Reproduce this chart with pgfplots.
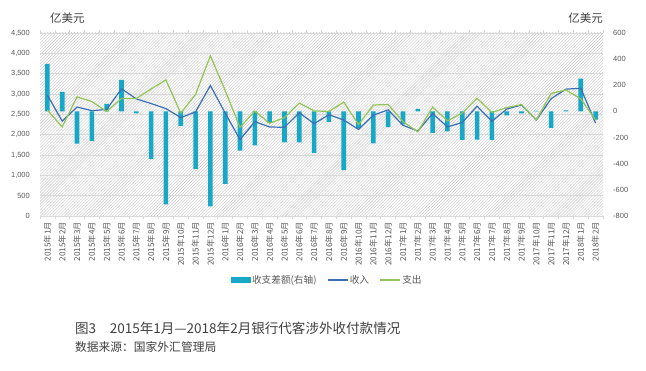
\documentclass[border=0pt]{standalone}
\usepackage{fontspec}
\setmainfont{Liberation Sans}
\newfontfamily\cjk{Noto Sans CJK SC}
\usepackage{pgfplots}
\pgfplotsset{compat=1.18}
\usepackage{pgfplotstable}
\usetikzlibrary{patterns}

\definecolor{barc}{HTML}{16A8C6}
\definecolor{incc}{HTML}{3A6FB6}
\definecolor{expc}{HTML}{92C456}
\definecolor{txt}{HTML}{595959}
\definecolor{capc}{HTML}{404040}
\definecolor{gridc}{HTML}{D9D9D9}

\pgfplotstableread{
x inc exp bal
0 2970 2605 363
1 2333 2190 149
2 2680 2930 -247
3 2590 2815 -226
4 2620 2570 57
5 3130 2890 241
6 2880 2890 -15
7 2766 3125 -364
8 2640 3345 -711
9 2420 2530 -110
10 2560 2990 -440
11 3210 3940 -726
12 2530 3085 -555
13 1880 2180 -300
14 2320 2580 -260
15 2190 2280 -88
16 2180 2420 -237
17 2540 2775 -236
18 2270 2585 -317
19 2490 2570 -80
20 2360 2800 -450
21 2130 2250 -125
22 2480 2730 -245
23 2610 2740 -120
24 2230 2320 -100
25 2090 2070 20
26 2520 2680 -165
27 2190 2340 -152
28 2300 2530 -217
29 2700 2895 -215
30 2330 2545 -217
31 2630 2665 -31
32 2730 2740 -15
33 2360 2365 5
34 2885 3013 -125
35 3120 3100 8
36 3140 2880 250
37 2285 2360 -63
}\data

\pgfplotsset{base/.style={width=563bp,height=183bp,scale only axis,
  at={(40bp,154bp)},anchor=south west,xmin=-0.5,xmax=37.5,enlargelimits=false,
  axis line style={draw=none},major tick length=0pt,
  /pgf/number format/assume math mode=true,/pgf/number format/1000 sep={,}}}

\begin{document}
\begin{tikzpicture}[x=1bp,y=1bp]
\fill[white] (0,0) rectangle (646,370);
\useasboundingbox (0,0) rectangle (646,370);

\begin{axis}[base,ymin=0,ymax=4500,ytick={0,500,...,4500},
  ymajorgrids,grid style={gridc,line width=0.7bp},
  axis background/.style={pattern=north east lines,pattern color=black!21},
  yticklabel style={font=\fontsize{7.5}{8}\selectfont,text=txt,anchor=east,inner sep=0pt,xshift=-10bp},
  xtick={0,...,37},
  xticklabels={2015年1月,2015年2月,2015年3月,2015年4月,2015年5月,2015年6月,2015年7月,2015年8月,2015年9月,2015年10月,2015年11月,2015年12月,2016年1月,2016年2月,2016年3月,2016年4月,2016年5月,2016年6月,2016年7月,2016年8月,2016年9月,2016年10月,2016年11月,2016年12月,2017年1月,2017年2月,2017年3月,2017年4月,2017年5月,2017年6月,2017年7月,2017年8月,2017年9月,2017年10月,2017年11月,2017年12月,2018年1月,2018年2月},
  xticklabel style={font=\cjk\fontsize{8.2}{9}\selectfont,text=txt,yshift=-6bp,rotate=90,anchor=east,inner sep=0pt},
  minor xtick={-0.5,0.5,...,37.5},minor tick length=3bp,tick align=outside,
  minor x tick style={gridc,line width=0.6bp}]
\addplot[draw=none] coordinates {(0,0)};
\end{axis}

\begin{axis}[base,ymin=-800,ymax=600,ytick={-800,-600,...,600},
  yticklabel pos=right,xtick=\empty,
  yticklabel style={font=\fontsize{7.5}{8}\selectfont,text=txt,anchor=west,inner sep=0pt,xshift=10bp}]
\addplot[ybar,bar width=4.6bp,fill=barc,draw=none] table[x=x,y=bal]{\data};
\end{axis}

\begin{axis}[base,ymin=0,ymax=4500,hide axis,
  legend image code/.code={\draw[#1] (0bp,0bp) -- (20bp,0bp);},
  legend style={draw=none,fill=none,at={(0.51,-0.35)},anchor=center,legend columns=3,
    font=\cjk\fontsize{9.7}{11}\selectfont,text=txt,
    nodes={inner sep=1.5bp},
    /tikz/every even column/.append style={column sep=9bp}}]
\addlegendimage{legend image code/.code={\fill[barc] (0bp,-2bp) rectangle (19bp,2.5bp);}}
\addlegendentry{收支差额(右轴)}
\addplot[incc,line width=1.2bp] table[x=x,y=inc]{\data};
\addlegendentry{收入}
\addplot[expc,line width=1.2bp] table[x=x,y=exp]{\data};
\addlegendentry{支出}
\end{axis}

\node[anchor=west,font=\cjk\fontsize{11.5}{13}\selectfont,text=capc,inner sep=0pt] at (50,352) {亿美元};
\node[anchor=east,font=\cjk\fontsize{11.5}{13}\selectfont,text=capc,inner sep=0pt] at (603,352) {亿美元};
\node[anchor=west,font=\cjk\fontsize{13.6}{15}\selectfont,text=capc,inner sep=0pt] at (75,42) {图3\hspace{1em}2015年1月—2018年2月银行代客涉外收付款情况};
\node[anchor=west,font=\cjk\fontsize{11.8}{13}\selectfont,text=capc,inner sep=0pt] at (75,23) {数据来源：国家外汇管理局};
\end{tikzpicture}
\end{document}
